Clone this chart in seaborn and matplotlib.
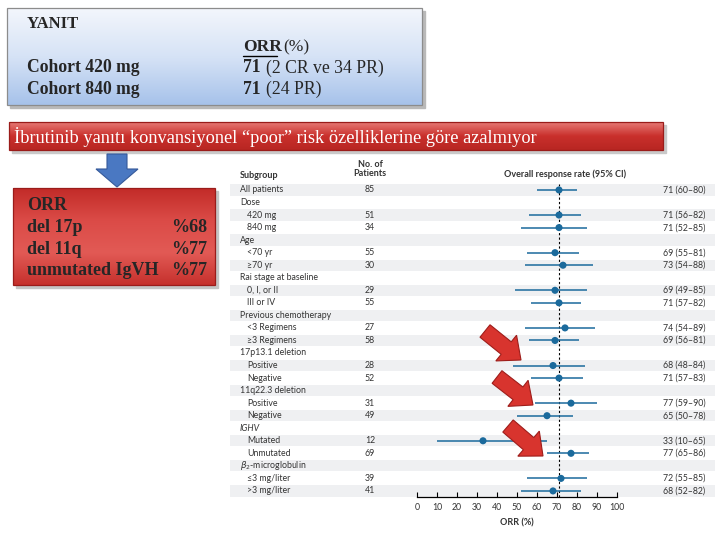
import numpy as np
import pandas as pd
import matplotlib
matplotlib.use("Agg")
import matplotlib.pyplot as plt
import seaborn as sns
from matplotlib.colors import LinearSegmentedColormap
from matplotlib.patches import Rectangle, Polygon, FancyArrow

# forest plot data (ORR with 95% CI)
subgroups = ["All patients", "Dose", "420 mg", "840 mg", "Age", "<70 yr", "≥70 yr",
             "Rai stage at baseline", "0, I, or II", "III or IV",
             "Previous chemotherapy", "<3 Regimens", "≥3 Regimens",
             "17p13.1 deletion", "Positive", "Negative",
             "11q22.3 deletion", "Positive", "Negative",
             "IGHV", "Mutated", "Unmutated",
             r"$\beta_2$-microglobulin", "≤3 mg/liter", ">3 mg/liter"]
is_sub = [0, 0, 1, 1, 0, 1, 1, 0, 1, 1, 0, 1, 1, 0, 1, 1, 0, 1, 1, 0, 1, 1, 0, 1, 1]
n_patients = [85, None, 51, 34, None, 55, 30, None, 29, 55, None, 27, 58,
              None, 28, 52, None, 31, 49, None, 12, 69, None, 39, 41]
orr = [71, None, 71, 71, None, 69, 73, None, 69, 71, None, 74, 69,
       None, 68, 71, None, 77, 65, None, 33, 77, None, 72, 68]
ci_low = [60, None, 56, 52, None, 55, 54, None, 49, 57, None, 54, 56,
          None, 48, 57, None, 59, 50, None, 10, 65, None, 55, 52]
ci_high = [80, None, 82, 85, None, 81, 88, None, 85, 82, None, 89, 81,
           None, 84, 83, None, 90, 78, None, 65, 86, None, 85, 82]
overall_orr = 71
xticks = list(range(0, 101, 10))

# slide text
box_rows = [("Cohort 420 mg", "71", "(2 CR ve 34 PR)"), ("Cohort 840 mg", "71", "(24 PR)")]
banner_text = "İbrutinib yanıtı konvansiyonel “poor” risk özelliklerine göre azalmıyor"
red_rows = [("del 17p", "%68"), ("del 11q", "%77"), ("unmutated IgVH", "%77")]

df = pd.DataFrame({"label": subgroups, "sub": is_sub, "n": n_patients,
                   "orr": orr, "lo": ci_low, "hi": ci_high})
df["row"] = np.arange(len(df))

sns.set_theme(style="white")
plt.rcParams["font.family"] = ["Lato", "DejaVu Sans"]
plt.rcParams["mathtext.fontset"] = "dejavusans"

fig = plt.figure(figsize=(7.2, 5.4), dpi=100)
blue = "#1b6a9c"
txt = "#333333"

# forest axes: x 0..100 -> 417..617 px, rows 12.54 px apart starting at y=190
ax = fig.add_axes([417 / 720, 1 - 497.2 / 540, 200 / 720, (497.2 - 183.7) / 540])
ax.set_facecolor("none")
ax.set_zorder(1)

for i in range(0, len(df), 2):
    ax.axhspan(i - 0.45, i + 0.45, xmin=(230 - 417) / 200, xmax=(715 - 417) / 200,
               color="#eff0f2", zorder=0, clip_on=False, lw=0)

pts = df.dropna(subset=["orr"])
ax.hlines(pts["row"], pts["lo"], pts["hi"], color=blue, lw=1.1, zorder=2)
sns.scatterplot(data=pts, x="orr", y="row", ax=ax, color=blue, s=26,
                edgecolor="none", zorder=3, legend=False)
ax.axvline(overall_orr, color="black", lw=0.8, ls=(0, (2, 2)), zorder=1)

for _, r in df.iterrows():
    x_lab = -85 if r["sub"] else -88.5
    style = "italic" if r["label"] == "IGHV" else "normal"
    ax.text(x_lab, r["row"], r["label"], fontsize=6.3, color=txt, va="center",
            ha="left", style=style)
    if pd.notna(r["n"]):
        ax.text(-23.5, r["row"], f"{int(r['n'])}", fontsize=6.3, color=txt,
                va="center", ha="center")
    if pd.notna(r["orr"]):
        ax.text(123, r["row"], f"{int(r['orr'])} ({int(r['lo'])}–{int(r['hi'])})",
                fontsize=6.3, color=txt, va="center", ha="left")

ax.text(-88.5, -1.15, "Subgroup", fontsize=6.5, weight="bold", color=txt, va="center")
ax.text(-23.5, -1.7, "No. of\nPatients", fontsize=6.5, weight="bold", color=txt,
        va="center", ha="center", linespacing=1.0)
ax.text(74, -1.25, "Overall response rate (95% CI)", fontsize=6.5, weight="bold",
        color=txt, va="center", ha="center")

ax.set_xlim(0, 100)
ax.set_ylim(len(df) - 0.5, -0.5)
ax.set_xticks(xticks)
ax.set_yticks([])
ax.tick_params(axis="x", direction="in", length=3.5, width=0.8, labelsize=6.3,
               pad=4, colors="black", labelcolor=txt, bottom=True)
for s in ["top", "right", "left"]:
    ax.spines[s].set_visible(False)
ax.spines["bottom"].set_color("black")
ax.spines["bottom"].set_linewidth(0.9)
ax.set_ylabel("")
ax.set_xlabel("ORR (%)", fontsize=6.5, weight="bold", color=txt, labelpad=5)

# overlay in pixel coordinates for slide elements
ov = fig.add_axes([0, 0, 1, 1])
ov.set_zorder(5)
ov.patch.set_visible(False)
ov.axis("off")


def gradient_box(x0, y0, x1, y1, colors, edge):
    cmap = LinearSegmentedColormap.from_list("g", colors)
    ov.imshow(np.linspace(0, 1, 256).reshape(-1, 1), cmap=cmap, aspect="auto",
              extent=(x0, x1, y1, y0), zorder=2, interpolation="bilinear")
    ov.add_patch(Rectangle((x0, y0), x1 - x0, y1 - y0, fill=False, ec=edge, lw=0.9, zorder=3))


serif = ["Liberation Serif", "DejaVu Serif"]

# top blue box
ov.add_patch(Rectangle((10, 11), 415, 97, color="#b9b9b9", zorder=1))
gradient_box(7, 8, 422, 105, ["#f3f6fc", "#d6e3f6", "#a6c2ea"], "#8c8c8c")
ov.text(27, 24, "YANIT", family=serif, weight="bold", fontsize=12, va="center", zorder=4)
ov.text(243, 47, "ORR", family=serif, weight="bold", fontsize=12.5, va="center", zorder=4)
ov.plot([243, 277], [56, 56], color="black", lw=1.0, zorder=4)
ov.text(283, 47, "(%)", family=serif, fontsize=12.5, va="center", zorder=4)
for k, (lab, val, rest) in enumerate(box_rows):
    yy = 68 + k * 21
    ov.text(27, yy, lab, family=serif, weight="bold", fontsize=12.7, va="center", zorder=4)
    ov.text(243, yy, val, family=serif, weight="bold", fontsize=12.7, va="center", zorder=4)
    ov.text(266, yy, rest, family=serif, fontsize=12.7, va="center", zorder=4)

# red banner
ov.add_patch(Rectangle((12, 125), 654, 28, color="#c9c9c9", zorder=1))
gradient_box(9, 122, 663, 150, ["#e77a76", "#c9302c", "#b82622"], "#9a1c1a")
ov.text(14, 137, banner_text, family=serif, fontsize=13.2, color="white",
        va="center", zorder=4)

# blue down arrow
ov.add_patch(Polygon([(107, 154), (127, 154), (127, 169), (138, 169), (117, 187),
                      (96, 169), (107, 169)], closed=True, fc="#4a78c2", ec="#35599a",
                     lw=0.8, zorder=3))

# red summary box
ov.add_patch(Rectangle((16, 191), 202, 97, color="#c4c4c4", zorder=1))
gradient_box(13, 188, 215, 285, ["#c22b28", "#db4b47", "#e25a55", "#c5302c"], "#9a1c1a")
ov.text(27, 206, "ORR", family=serif, weight="bold", fontsize=13, va="center", zorder=4)
for k, (lab, val) in enumerate(red_rows):
    yy = 227.5 + k * 21.5
    ov.text(27, yy, lab, family=serif, weight="bold", fontsize=13, va="center", zorder=4)
    ov.text(207, yy, val, family=serif, weight="bold", fontsize=13, va="center",
            ha="right", zorder=4)

# red pointer arrows onto the forest plot
for (x0, y0), (x1, y1) in [((485, 331), (521, 360)), ((497, 377), (533, 405)),
                           ((508, 426), (543, 456))]:
    ov.add_patch(FancyArrow(x0, y0, x1 - x0, y1 - y0, width=16, head_width=33,
                            head_length=19, length_includes_head=True,
                            fc="#d8342e", ec="#9e1d1a", lw=0.8, zorder=6))

ov.set_xlim(0, 720)
ov.set_ylim(540, 0)

fig.savefig("out.png", dpi=100, facecolor="white")
